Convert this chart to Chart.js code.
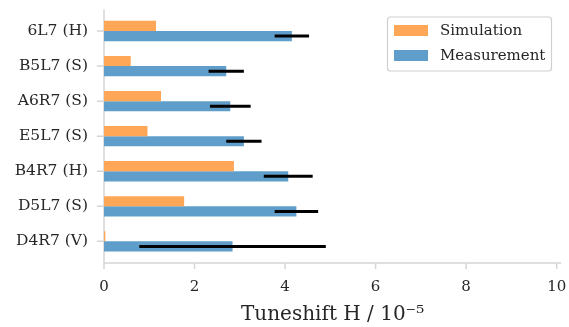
<!DOCTYPE html>
<html>
<head>
<meta charset="utf-8">
<script src="https://cdn.jsdelivr.net/npm/chart.js@4.4.1/dist/chart.umd.min.js"></script>
<style>
    html, body { margin: 0; padding: 0; background: #fff; }
    #wrap { width: 569px; height: 327px; }
</style>
</head>
<body>
<div id="wrap"><canvas id="tuneshiftChart" width="569" height="327"></canvas></div>
<script>
const magnets = ['6L7 (H)', 'B5L7 (S)', 'A6R7 (S)', 'E5L7 (S)', 'B4R7 (H)', 'D5L7 (S)', 'D4R7 (V)'];
const simulation = [1.15, 0.59, 1.26, 0.96, 2.87, 1.77, 0.03];
const measurement = [4.15, 2.70, 2.79, 3.09, 4.07, 4.25, 2.84];
const measurementErr = [0.38, 0.39, 0.45, 0.39, 0.54, 0.48, 2.06];
const xTicks = [0, 2, 4, 6, 8, 10];

const SERIF = "'DejaVu Serif', serif";
const TEXT = '#262626';
const SPINE = '#d5d5d5';

// error bars on the measurement bars
const errorBars = {
    id: 'errorBars',
    afterDatasetsDraw(chart) {
        const meta = chart.getDatasetMeta(1);
        const x = chart.scales.x;
        const ctx = chart.ctx;
        ctx.save();
        ctx.strokeStyle = '#000';
        ctx.lineWidth = 3;
        meta.data.forEach((bar, i) => {
            const v = measurement[i], e = measurementErr[i];
            ctx.beginPath();
            ctx.moveTo(x.getPixelForValue(v - e), bar.y);
            ctx.lineTo(x.getPixelForValue(v + e), bar.y);
            ctx.stroke();
        });
        ctx.restore();
    }
};

// matplotlib-like spines and outward tick marks
const spines = {
    id: 'spines',
    beforeDatasetsDraw(chart) {
        const { ctx, chartArea: a, scales } = chart;
        const top = a.top - 4, bottom = a.bottom + 4;
        ctx.save();
        ctx.strokeStyle = SPINE;
        ctx.lineWidth = 1.5;
        ctx.beginPath();
        ctx.moveTo(a.left, top);
        ctx.lineTo(a.left, bottom);
        ctx.moveTo(a.left, bottom);
        ctx.lineTo(a.right, bottom);
        magnets.forEach((m, i) => {
            const y = scales.y.getPixelForValue(i);
            ctx.moveTo(a.left - 7, y);
            ctx.lineTo(a.left, y);
        });
        xTicks.forEach(t => {
            const x = scales.x.getPixelForValue(t);
            ctx.moveTo(x, bottom);
            ctx.lineTo(x, bottom + 6);
        });
        ctx.stroke();
        ctx.restore();
    }
};

// legend box in the upper right corner
const boxLegend = {
    id: 'boxLegend',
    afterDraw(chart) {
        const ctx = chart.ctx;
        const x0 = 387.5, y0 = 17, w = 164, h = 54;
        ctx.save();
        ctx.fillStyle = 'rgba(255,255,255,0.85)';
        ctx.strokeStyle = '#d0d0d0';
        ctx.lineWidth = 1.2;
        ctx.beginPath();
        ctx.roundRect(x0, y0, w, h, 3);
        ctx.fill();
        ctx.stroke();
        ctx.font = '15px ' + SERIF;
        ctx.textBaseline = 'middle';
        chart.data.datasets.forEach((ds, i) => {
            const cy = 30.5 + i * 25;
            ctx.fillStyle = ds.backgroundColor;
            ctx.fillRect(394, cy - 5.5, 34, 11);
            ctx.fillStyle = TEXT;
            ctx.fillText(ds.label, 440, cy + 1);
        });
        ctx.restore();
    }
};

function noPad(scale) {
    scale.paddingLeft = 0;
    scale.paddingRight = 0;
    scale.paddingTop = 0;
    scale.paddingBottom = 0;
}

function initChart() {
    const ctx = document.getElementById('tuneshiftChart').getContext('2d');

    new Chart(ctx, {
        type: 'bar',
        data: {
            labels: magnets,
            datasets: [
                {
                    label: 'Simulation',
                    data: simulation,
                    backgroundColor: '#ffa657',
                    categoryPercentage: 0.58,
                    barPercentage: 1.0
                },
                {
                    label: 'Measurement',
                    data: measurement,
                    backgroundColor: '#5f9eca',
                    categoryPercentage: 0.58,
                    barPercentage: 1.0
                }
            ]
        },
        options: {
            indexAxis: 'y',
            responsive: false,
            animation: false,
            layout: {
                padding: { left: 0, right: 7.8, top: 13.5, bottom: 0 }
            },
            scales: {
                x: {
                    type: 'linear',
                    min: 0,
                    max: 10.1,
                    afterBuildTicks: scale => {
                        scale.ticks = xTicks.map(v => ({ value: v }));
                    },
                    afterFit: scale => {
                        scale.height = 68.1;
                        noPad(scale);
                    },
                    grid: { display: false },
                    border: { display: false },
                    ticks: {
                        color: TEXT,
                        padding: 11,
                        font: { family: SERIF, size: 15 },
                        maxRotation: 0
                    },
                    title: {
                        display: true,
                        text: 'Tuneshift H / 10⁻⁵',
                        color: TEXT,
                        font: { family: SERIF, size: 20 },
                        padding: { top: 0, bottom: 0 }
                    }
                },
                y: {
                    afterFit: scale => {
                        scale.width = 104;
                        noPad(scale);
                    },
                    grid: { display: false },
                    border: { display: false },
                    ticks: {
                        color: TEXT,
                        padding: 8,
                        font: { family: SERIF, size: 15.5 }
                    }
                }
            },
            plugins: {
                legend: { display: false },
                tooltip: { enabled: false }
            }
        },
        plugins: [spines, errorBars, boxLegend]
    });
}

initChart();
</script>
</body>
</html>
